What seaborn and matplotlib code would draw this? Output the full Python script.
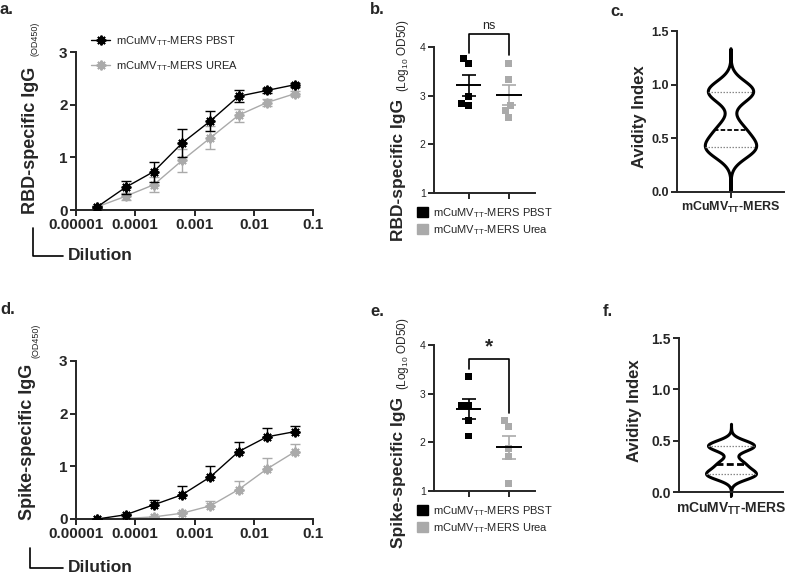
import numpy as np
import pandas as pd
import matplotlib
matplotlib.use("Agg")
import matplotlib.pyplot as plt
import seaborn as sns
from matplotlib.lines import Line2D
from matplotlib.patches import Patch

# ELISA curves (a, d): 3-fold dilutions starting at 1:20
dilution = 1 / np.array([43740, 14580, 4860, 1620, 540, 180, 60, 20])
dil_ticks = [0.00001, 0.0001, 0.001, 0.01, 0.1]
dil_labels = ["0.00001", "0.0001", "0.001", "0.01", "0.1"]

rbd_pbst = [0.06, 0.43, 0.73, 1.27, 1.69, 2.16, 2.27, 2.38]
rbd_pbst_sem = [0.02, 0.13, 0.19, 0.26, 0.19, 0.11, 0.04, 0.04]
rbd_urea = [0.06, 0.26, 0.48, 0.94, 1.37, 1.80, 2.04, 2.21]
rbd_urea_sem = [0.02, 0.07, 0.14, 0.22, 0.22, 0.12, 0.06, 0.05]

spike_pbst = [0.0, 0.08, 0.27, 0.46, 0.80, 1.28, 1.56, 1.66]
spike_pbst_sem = [0.0, 0.02, 0.10, 0.17, 0.21, 0.18, 0.16, 0.10]
spike_urea = [0.0, 0.01, 0.04, 0.11, 0.25, 0.56, 0.95, 1.28]
spike_urea_sem = [0.0, 0.0, 0.01, 0.02, 0.10, 0.16, 0.20, 0.14]

# Log10 OD50 titers (b, e)
groups = ["mCuMV$_{\\mathrm{TT}}$-MERS PBST", "mCuMV$_{\\mathrm{TT}}$-MERS Urea"]
curve_labels = ["mCuMV$_{\\mathrm{TT}}$-MERS PBST", "mCuMV$_{\\mathrm{TT}}$-MERS UREA"]
rbd_titer_pbst = [3.77, 3.67, 2.99, 2.80, 2.83]
rbd_titer_urea = [3.67, 3.33, 2.80, 2.69, 2.56]
spike_titer_pbst = [3.36, 2.75, 2.75, 2.44, 2.13]
spike_titer_urea = [2.44, 2.32, 1.87, 1.70, 1.15]

# avidity index (c, f)
vaccine = "mCuMV$_{\\mathbf{TT}}$-MERS"
avidity_rbd = [0.40, 0.42, 0.58, 0.93, 0.95]
avidity_spike = [0.17, 0.175, 0.276, 0.445, 0.46]

BLACK = "#000000"
GREY = "#aaaaaa"

sns.set_style("ticks")
plt.rcParams["font.family"] = ["Liberation Sans", "DejaVu Sans"]
plt.rcParams["mathtext.fontset"] = "custom"
plt.rcParams["mathtext.rm"] = "Liberation Sans"
plt.rcParams["mathtext.bf"] = "Liberation Sans:bold"
plt.rcParams["axes.linewidth"] = 1.4

W, H = 788, 575
fig = plt.figure(figsize=(W / 100, H / 100), dpi=100)


def box(l, t, r, b):
    return [l / W, 1 - b / H, (r - l) / W, (b - t) / H]


def fx(px):
    return px / W


def fy(py):
    return 1 - py / H


def style_axes(ax, tick_size, bold=True):
    sns.despine(ax=ax)
    ax.tick_params(direction="out", length=4, width=1.4, labelsize=tick_size, pad=2)
    if bold:
        for t in ax.get_xticklabels() + ax.get_yticklabels():
            t.set_fontweight("bold")


def ylabel(ax, main, small, xm, ym, xs, ys, size, small_size):
    ax.text(xm, ym, main, transform=ax.transAxes, rotation=90, ha="center",
            va="center", fontsize=size, fontweight="bold")
    ax.text(xs, ys, small, transform=ax.transAxes, rotation=90, ha="center",
            va="center", fontsize=small_size)


def curve_panel(ax, pbst, pbst_sem, urea, urea_sem, both_sides):
    for y, e, c, lab, z in ((pbst, pbst_sem, BLACK, curve_labels[0], 3),
                            (urea, urea_sem, GREY, curve_labels[1], 2)):
        sns.lineplot(x=dilution, y=y, ax=ax, color=c, marker=(8, 2, 0), markersize=7,
                     markeredgewidth=1.4, markeredgecolor=c, linewidth=1,
                     errorbar=None, label=lab, zorder=z)
        yerr = np.array(e) if both_sides else [np.zeros(len(e)), e]
        ax.errorbar(dilution, y, yerr=yerr, fmt="none", ecolor=c, elinewidth=1,
                    capsize=3.5, capthick=1, zorder=z)
    ax.set_xscale("log")
    ax.set_xlim(1e-5, 0.1)
    ax.set_ylim(0, 3)
    ax.set_xticks(dil_ticks)
    ax.set_xticklabels(dil_labels)
    ax.xaxis.set_minor_locator(matplotlib.ticker.NullLocator())
    ax.set_yticks([0, 1, 2, 3])
    ax.set_xlabel("")
    ax.set_ylabel("")
    style_axes(ax, 11)


def dilution_tag(x0, y0, y1):
    fig.add_artist(Line2D([fx(x0), fx(x0), fx(63)], [fy(y0), fy(y1), fy(y1)],
                          color=BLACK, lw=1.2))
    fig.text(fx(68), fy(y1), "Dilution", fontsize=12.5, fontweight="bold",
             ha="left", va="center")


def titer_panel(ax, pbst, urea, bracket, mark):
    df = pd.DataFrame({"group": [groups[0]] * len(pbst) + [groups[1]] * len(urea),
                       "titer": pbst + urea})
    sns.swarmplot(data=df, x="group", y="titer", hue="group", palette=[BLACK, GREY],
                  marker="s", size=5, linewidth=0, legend=False, ax=ax)
    for i, (vals, c) in enumerate(((pbst, BLACK), (urea, GREY))):
        m = np.mean(vals)
        sem = np.std(vals, ddof=1) / np.sqrt(len(vals))
        ax.errorbar(i, m, yerr=sem, fmt="none", ecolor=c, elinewidth=1.2,
                    capsize=5, capthick=1.2, zorder=4)
        ax.hlines(m, i - 0.32, i + 0.32, color=BLACK, lw=1.4, zorder=5)
    yl, yt, yr = bracket
    ax.plot([0, 0, 1, 1], [yl, yt, yt, yr], color=BLACK, lw=1.2, clip_on=False)
    ax.text(0.5, yt + 0.05, mark, ha="center", va="bottom",
            fontsize=9 if mark == "ns" else 15, fontweight="normal" if mark == "ns" else "bold")
    ax.set_xlim(-0.86, 1.65)
    ax.set_ylim(1, 4)
    ax.set_yticks([1, 2, 3, 4])
    ax.set_xticks([0, 1])
    ax.set_xticklabels(["", ""])
    ax.set_xlabel("")
    ax.set_ylabel("")
    style_axes(ax, 7.5, bold=False)
    handles = [Patch(color=BLACK), Patch(color=GREY)]
    ax.legend(handles, groups, loc="upper left", bbox_to_anchor=(-0.17, -0.09),
              frameon=False, fontsize=8, handlelength=1.0, handleheight=1.0,
              handletextpad=0.5, labelspacing=0.3, borderpad=0, borderaxespad=0)


def violin_panel(ax, vals, tick_size, label_size, median_lw):
    sns.violinplot(x=[vaccine] * len(vals), y=vals, ax=ax, color="white",
                   linecolor=BLACK, linewidth=2.2, inner="quart", bw_adjust=0.5,
                   cut=4, width=0.48)
    for coll in ax.collections:
        coll.set_clip_on(False)
    # quartile lines: 25th, median, 75th
    q25, q50, q75 = ax.lines[-3:]
    for ln in (q25, q75):
        ln.set_color("#888888")
        ln.set_linewidth(0.9)
        ln.set_dashes((1.2, 1.2))
    q50.set_color(BLACK)
    q50.set_linewidth(median_lw)
    q50.set_dashes((2.5, 1.2))
    ax.set_xlim(-0.5, 0.5)
    ax.set_ylim(0, 1.5)
    ax.set_yticks([0, 0.5, 1.0, 1.5])
    ax.set_yticklabels(["0.0", "0.5", "1.0", "1.5"])
    ax.set_xlabel("")
    ax.set_ylabel("")
    style_axes(ax, tick_size)
    ax.tick_params(axis="x", labelsize=label_size - 2)


# a. RBD ELISA curves
ax_a = fig.add_axes(box(76, 52, 313, 210))
curve_panel(ax_a, rbd_pbst, rbd_pbst_sem, rbd_urea, rbd_urea_sem, True)
ax_a.legend(loc="upper left", bbox_to_anchor=(0.065, 1.115), frameon=False, fontsize=8,
            handlelength=1.7, handletextpad=0.5, labelspacing=1.0, borderpad=0,
            borderaxespad=0)
ylabel(ax_a, "RBD-specific IgG", "(OD450)", -0.194, 0.44, -0.172, 1.085, 13, 6.5)
dilution_tag(33, 228, 256)

# d. Spike ELISA curves
ax_d = fig.add_axes(box(76, 361, 313, 519))
curve_panel(ax_d, spike_pbst, spike_pbst_sem, spike_urea, spike_urea_sem, False)
ax_d.get_legend().remove()
ylabel(ax_d, "Spike-specific IgG", "(OD450)", -0.203, 0.487, -0.168, 1.125, 13, 6.5)
dilution_tag(30, 548, 568)

# b. RBD titers
ax_b = fig.add_axes(box(434, 47, 535, 193))
titer_panel(ax_b, rbd_titer_pbst, rbd_titer_urea, (3.88, 4.26, 3.83), "ns")
ylabel(ax_b, "RBD-specific IgG", "(Log$_{10}$ OD50)", -0.356, 0.16, -0.31, 0.94, 12.5, 8.5)

# e. Spike titers
ax_e = fig.add_axes(box(434, 345, 535, 491))
titer_panel(ax_e, spike_titer_pbst, spike_titer_urea, (3.5, 3.72, 2.6), "*")
ylabel(ax_e, "Spike-specific IgG", "(Log$_{10}$ OD50)", -0.356, 0.13, -0.31, 0.94, 12.5, 8.5)

# c. RBD avidity
ax_c = fig.add_axes(box(677, 31, 784, 192))
violin_panel(ax_c, avidity_rbd, 9, 11, 1.3)
ax_c.set_ylabel("Avidity Index", fontsize=12, fontweight="bold")
ax_c.yaxis.set_label_coords(-0.28, 0.47)

# f. Spike avidity
ax_f = fig.add_axes(box(679, 338, 783, 492))
violin_panel(ax_f, avidity_spike, 10, 12, 2.0)
ax_f.set_ylabel("Avidity Index", fontsize=12, fontweight="bold")
ax_f.yaxis.set_label_coords(-0.36, 0.53)

for lab, x, y in (("a.", 0, 10), ("b.", 370, 10), ("c.", 610, 11),
                  ("d.", 0, 309), ("e.", 370, 312), ("f.", 603, 312)):
    fig.text(fx(x), fy(y), lab, fontsize=12, fontweight="bold", ha="left", va="center")

fig.savefig("out.png", dpi=100)
